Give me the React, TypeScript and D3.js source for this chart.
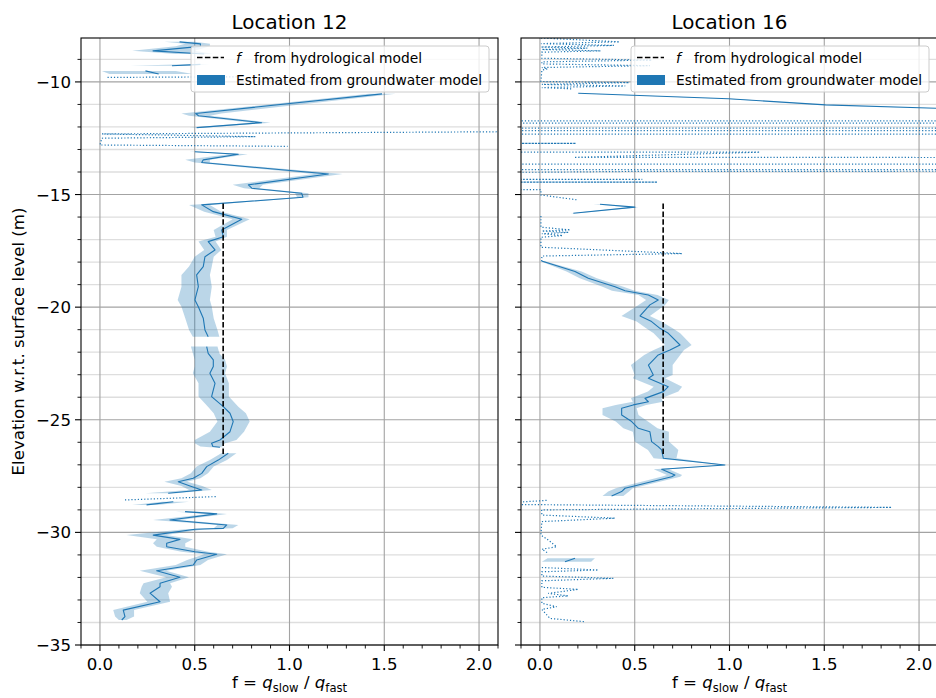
import React from 'react';
import * as d3 from 'd3';

// ---------- axis settings ----------
const X_DOMAIN: [number, number] = [-0.1, 2.1];
const Y_DOMAIN: [number, number] = [-35, -8.05];
const X_TICKS = [0, 0.5, 1.0, 1.5, 2.0];
const X_TICK_LABELS = ['0.0', '0.5', '1.0', '1.5', '2.0'];
const Y_TICKS = [-35, -30, -25, -20, -15, -10];
const Y_TICK_LABELS = ['−35', '−30', '−25', '−20', '−15', '−10'];
const TITLES = ['Location 12', 'Location 16'];
const LEGEND_LABELS = ['from hydrological model', 'Estimated from groundwater model'];
const Y_LABEL = 'Elevation w.r.t. surface level (m)';

// f from hydrological model (dashed black line)
const HYDRO_F = [0.65, 0.65];
const HYDRO_DEPTHS = [[-15.4, -26.6], [-15.4, -26.6]];

// ---------- Location 12: solid segments [depth, f, lower, upper] ----------
const loc12Seg1 = [
  [-8.22, 0.42, 0.34, 0.5], [-8.31, 0.53, 0.45, 0.58], [-8.42, 0.53, 0.4, 0.58],
  [-8.62, 0.28, 0.17, 0.5], [-8.76, 0.55, 0.4, 0.6],
];
const loc12Seg2 = [[-9.22, 0.53, 0.45, 0.58], [-9.28, 0.38, 0.16, 0.48]];
const loc12Seg3 = [[-9.51, 0.24, 0.01, 0.4], [-9.65, 0.31, 0.05, 0.49]];
const loc12Seg4 = [
  [-10.53, 1.488, 1.42, 1.56], [-11.4, 0.505, 0.43, 0.64], [-11.5, 0.52, 0.47, 0.58],
  [-11.81, 0.853, 0.8, 0.9], [-12.03, 0.51, 0.47, 0.55],
];
const loc12Seg5 = [
  [-13.1, 0.501, 0.47, 0.53], [-13.21, 0.73, 0.68, 0.78], [-13.46, 0.545, 0.45, 0.58],
  [-13.58, 0.537, 0.5, 0.58], [-14.09, 1.205, 1.13, 1.28], [-14.57, 0.783, 0.7, 0.86],
  [-14.72, 0.801, 0.76, 0.84], [-14.94, 1.064, 1.03, 1.1], [-15.12, 1.071, 1.04, 1.1],
  [-15.46, 0.537, 0.47, 0.58], [-15.76, 0.598, 0.55, 0.64], [-16.1, 0.748, 0.7, 0.79],
  [-16.57, 0.642, 0.6, 0.67], [-16.87, 0.651, 0.61, 0.67], [-17.09, 0.571, 0.52, 0.61],
  [-17.46, 0.607, 0.55, 0.64], [-17.76, 0.554, 0.5, 0.6], [-18.2, 0.545, 0.47, 0.59],
  [-18.57, 0.51, 0.43, 0.58], [-19.09, 0.519, 0.43, 0.59], [-19.68, 0.501, 0.41, 0.58],
  [-19.98, 0.519, 0.43, 0.59], [-20.49, 0.545, 0.45, 0.6], [-21.01, 0.554, 0.47, 0.62],
  [-21.31, 0.571, 0.49, 0.63],
];
const loc12Seg6 = [
  [-21.75, 0.563, 0.48, 0.62], [-22.05, 0.571, 0.49, 0.63], [-22.34, 0.598, 0.5, 0.66],
  [-22.64, 0.598, 0.5, 0.67], [-22.94, 0.58, 0.49, 0.66], [-23.38, 0.607, 0.52, 0.68],
  [-23.97, 0.589, 0.52, 0.68], [-24.42, 0.651, 0.57, 0.73], [-24.71, 0.686, 0.6, 0.77],
  [-25.08, 0.703, 0.62, 0.79], [-25.53, 0.686, 0.58, 0.76], [-25.9, 0.633, 0.5, 0.72],
  [-26.04, 0.589, 0.5, 0.66], [-26.19, 0.596, 0.53, 0.64], [-26.22, 0.633, 0.58, 0.66],
];
const loc12Seg7 = [
  [-26.49, 0.677, 0.64, 0.72], [-26.79, 0.624, 0.58, 0.67], [-27.08, 0.563, 0.51, 0.6],
  [-27.38, 0.537, 0.48, 0.57], [-27.6, 0.492, 0.43, 0.53], [-27.75, 0.413, 0.34, 0.46],
  [-27.94, 0.475, 0.43, 0.54], [-28.12, 0.537, 0.47, 0.59], [-28.26, 0.36, 0.24, 0.4],
];
const loc12Seg8 = [[-28.64, 0.387, 0.33, 0.47], [-28.78, 0.246, 0.17, 0.3]];
const loc12Seg9 = [
  [-29.08, 0.449, 0.4, 0.52], [-29.18, 0.616, 0.57, 0.67], [-29.45, 0.369, 0.28, 0.42],
  [-29.67, 0.669, 0.62, 0.73], [-29.82, 0.651, 0.6, 0.7], [-29.86, 0.501, 0.45, 0.55],
  [-30.12, 0.281, 0.14, 0.35], [-30.31, 0.422, 0.3, 0.49], [-30.48, 0.352, 0.28, 0.45],
  [-30.64, 0.352, 0.3, 0.45], [-30.86, 0.501, 0.43, 0.57], [-30.97, 0.616, 0.55, 0.67],
  [-31.23, 0.51, 0.46, 0.57], [-31.45, 0.492, 0.4, 0.53], [-31.7, 0.299, 0.21, 0.35],
  [-31.99, 0.422, 0.35, 0.47], [-32.26, 0.317, 0.23, 0.37], [-32.41, 0.317, 0.22, 0.38],
  [-32.7, 0.264, 0.21, 0.36], [-33.08, 0.317, 0.25, 0.37], [-33.45, 0.123, 0.07, 0.18],
  [-33.74, 0.132, 0.08, 0.18], [-33.89, 0.115, 0.1, 0.14],
];
// ---------- Location 12: dotted parts [depth, f] ----------
const loc12Dot1 = [[-9.8, 0.04], [-9.77, 0.75]];
const loc12Dot2 = [[-12.19, 2.6], [-12.31, 0.01], [-12.43, 0.82], [-12.5, 0.01], [-12.8, 0.0], [-12.86, 0.99]];
const loc12Dot3 = [[-28.56, 0.132], [-28.41, 0.616]];

// ---------- Location 16: solid segments ----------
const loc16Seg1 = [
  [-10.5, 0.202, 0.19, 0.21], [-10.75, 0.994, 0.98, 1.01], [-11.02, 1.506, 1.49, 1.52],
  [-11.17, 2.09, 2.08, 2.1], [-11.3, 2.6, 2.6, 2.6],
];
const loc16Seg2 = [[-15.43, 0.317, 0.28, 0.34], [-15.56, 0.501, 0.47, 0.52], [-15.83, 0.176, 0.16, 0.2]];
const loc16Seg3 = [
  [-17.95, 0.009, 0.0, 0.02], [-18.42, 0.185, 0.14, 0.22], [-18.72, 0.255, 0.21, 0.3],
  [-19.09, 0.396, 0.33, 0.44], [-19.27, 0.449, 0.38, 0.5], [-19.46, 0.572, 0.52, 0.62],
  [-19.68, 0.624, 0.56, 0.68], [-19.9, 0.58, 0.52, 0.66], [-20.39, 0.528, 0.43, 0.58],
  [-20.64, 0.589, 0.51, 0.64], [-20.94, 0.633, 0.56, 0.7], [-21.16, 0.677, 0.6, 0.74],
  [-21.68, 0.739, 0.66, 0.8], [-21.9, 0.686, 0.6, 0.76], [-22.12, 0.624, 0.55, 0.74],
  [-22.57, 0.572, 0.48, 0.7], [-23.01, 0.598, 0.5, 0.7], [-23.16, 0.572, 0.49, 0.66],
  [-23.53, 0.677, 0.6, 0.75], [-23.75, 0.651, 0.57, 0.73], [-24.05, 0.554, 0.48, 0.64],
  [-24.2, 0.572, 0.49, 0.65], [-24.34, 0.492, 0.4, 0.56], [-24.49, 0.431, 0.33, 0.51],
  [-24.79, 0.431, 0.33, 0.52], [-25.08, 0.484, 0.4, 0.57], [-25.38, 0.519, 0.44, 0.62],
  [-25.53, 0.58, 0.49, 0.68], [-25.97, 0.589, 0.5, 0.68], [-26.19, 0.624, 0.54, 0.71],
  [-26.34, 0.642, 0.57, 0.73], [-26.71, 0.651, 0.6, 0.72], [-27.01, 0.976, 0.97, 0.98],
  [-27.2, 0.642, 0.6, 0.68], [-27.45, 0.712, 0.67, 0.75], [-27.53, 0.695, 0.64, 0.74],
  [-28.04, 0.449, 0.4, 0.49], [-28.19, 0.431, 0.36, 0.47], [-28.38, 0.378, 0.33, 0.44],
];
const loc16Seg4 = [[-31.15, 0.185, 0.04, 0.29], [-31.3, 0.132, 0.01, 0.27]];
// ---------- Location 16: dotted parts ----------
const loc16Dot1 = [
  [-8.05, 0.005], [-8.22, 0.42], [-8.3, 0.005], [-8.38, 0.39], [-8.45, 0.005], [-8.5, 0.25],
  [-8.56, 0.01], [-8.62, 0.32], [-8.68, 0.01], [-8.95, 0.01], [-9.03, 0.59], [-9.11, 0.01],
  [-9.2, 0.01], [-9.28, 0.58], [-9.36, 0.01], [-9.42, 0.04], [-9.48, 0.01], [-9.98, 0.005],
  [-10.03, 0.47], [-10.11, 0.01], [-10.18, 0.45], [-10.25, 0.01], [-10.31, 0.17],
];
const loc16Dot2 = [
  [-11.7, 20], [-11.76, -20], [-11.8, -20], [-11.86, 20], [-12.03, 20], [-12.07, -20],
  [-12.14, -20], [-12.18, 20], [-12.3, 20], [-12.34, -20], [-12.7, -20], [-12.73, 0.19],
  [-12.75, -20], [-13.1, -20], [-13.12, 1.16], [-13.35, 0.18], [-13.4, 20], [-13.62, 20],
  [-13.68, -20], [-13.88, -20], [-13.89, 0.005], [-13.93, 20], [-13.97, 0.54], [-14.01, 0.005],
  [-14.03, -20], [-14.3, -20], [-14.33, 0.54], [-14.37, -20], [-14.42, -20], [-14.45, 0.62],
  [-14.49, -20], [-14.72, -20], [-14.78, 0.005], [-15.02, 0.005], [-15.24, 0.2],
];
const loc16Dot3 = [
  [-15.95, 0.005], [-16.45, 0.005], [-16.57, 0.16], [-16.62, 0.01], [-16.68, 0.15], [-16.74, 0.01],
  [-16.82, 0.12], [-16.9, 0.005], [-17.34, 0.005], [-17.62, 0.75], [-17.73, 0.01], [-17.95, 0.009],
];
const loc16Dot4 = [
  [-28.58, 0.035], [-28.75, -0.3], [-28.89, 1.856], [-29.0, 0.009], [-29.23, 0.01], [-29.37, 0.396],
  [-29.52, 0.01], [-30.12, 0.005], [-30.34, 0.044], [-30.64, 0.088], [-30.75, 0.01], [-30.93, 0.044],
];
const loc16Dot5 = [
  [-31.56, 0.01], [-31.67, 0.308], [-31.75, 0.01], [-31.94, 0.01], [-32.04, 0.387], [-32.15, 0.01],
  [-32.44, 0.01], [-32.53, 0.202], [-32.71, 0.044], [-32.82, 0.149], [-32.9, 0.01], [-33.15, 0.01],
  [-33.3, 0.088], [-33.42, 0.01], [-33.82, 0.053], [-33.97, 0.241],
];

const LOC12_SOLID = [loc12Seg1, loc12Seg2, loc12Seg3, loc12Seg4, loc12Seg5, loc12Seg6, loc12Seg7, loc12Seg8, loc12Seg9];
const LOC12_DOTTED = [loc12Dot1, loc12Dot2, loc12Dot3];
const LOC16_SOLID = [loc16Seg1, loc16Seg2, loc16Seg3, loc16Seg4];
const LOC16_DOTTED = [loc16Dot1, loc16Dot2, loc16Dot3, loc16Dot4, loc16Dot5];

// ---------- layout ----------
const W = 936;
const H = 698;
const TOP = 38;
const BOTTOM = 645;
const PANELS = [
  { x0: 81, x1: 498 },
  { x0: 521, x1: 938 },
];
const BLUE = '#1f77b4';
const FONT = 'DejaVu Sans, sans-serif';

type PanelProps = {
  idx: number;
  solid: number[][][];
  dotted: number[][][];
};

function Panel({ idx, solid, dotted }: PanelProps) {
  const { x0, x1 } = PANELS[idx];
  const x = d3.scaleLinear().domain(X_DOMAIN).range([x0, x1]);
  const y = d3.scaleLinear().domain(Y_DOMAIN).range([BOTTOM, TOP]);
  const area = d3
    .area<number[]>()
    .y((d) => y(d[0]))
    .x0((d) => x(d[2]))
    .x1((d) => x(d[3]));
  const line = d3
    .line<number[]>()
    .x((d) => x(d[1]))
    .y((d) => y(d[0]));
  const yMinor = d3.range(-35, -8, 1).filter((v) => v % 5 !== 0);
  const xMinor = d3
    .range(-1, 22)
    .filter((i) => i % 5 !== 0)
    .map((i) => i / 10);
  const clipId = `clip-${idx}`;
  const lgX = x1 - 307;
  const lgY = 46;
  const cx = (x0 + x1) / 2;
  return (
    <g>
      <defs>
        <clipPath id={clipId}>
          <rect x={x0} y={TOP} width={x1 - x0} height={BOTTOM - TOP} />
        </clipPath>
      </defs>
      {/* grid */}
      {yMinor.map((v) => (
        <line key={'ym' + v} x1={x0} x2={x1} y1={y(v)} y2={y(v)} stroke="#dedede" strokeWidth={1.3} />
      ))}
      {Y_TICKS.map((v) => (
        <line key={'yg' + v} x1={x0} x2={x1} y1={y(v)} y2={y(v)} stroke="#a3a3a3" strokeWidth={1.1} />
      ))}
      {X_TICKS.map((v) => (
        <line key={'xg' + v} x1={x(v)} x2={x(v)} y1={TOP} y2={BOTTOM} stroke="#a3a3a3" strokeWidth={1.1} />
      ))}
      {/* data */}
      <g clipPath={`url(#${clipId})`}>
        {solid.map((seg, i) => (
          <path key={'a' + i} d={area(seg) || ''} fill={BLUE} fillOpacity={0.3} stroke="none" />
        ))}
        {dotted.map((seg, i) => (
          <path
            key={'d' + i}
            d={line(seg) || ''}
            fill="none"
            stroke={BLUE}
            strokeWidth={1.2}
            strokeDasharray="1.2 2"
          />
        ))}
        {solid.map((seg, i) => (
          <path key={'l' + i} d={line(seg) || ''} fill="none" stroke={BLUE} strokeWidth={1.1} strokeLinejoin="round" />
        ))}
        <line
          x1={x(HYDRO_F[idx])}
          x2={x(HYDRO_F[idx])}
          y1={y(HYDRO_DEPTHS[idx][0])}
          y2={y(HYDRO_DEPTHS[idx][1])}
          stroke="#000"
          strokeWidth={1.6}
          strokeDasharray="5.5 2.4"
        />
      </g>
      {/* spines */}
      <rect x={x0} y={TOP} width={x1 - x0} height={BOTTOM - TOP} fill="none" stroke="#000" strokeWidth={1.1} />
      {/* x ticks */}
      {X_TICKS.map((v, i) => (
        <g key={'xt' + v}>
          <line x1={x(v)} x2={x(v)} y1={BOTTOM} y2={BOTTOM + 6} stroke="#000" strokeWidth={1.1} />
          <text x={x(v)} y={670} textAnchor="middle" fontSize={16.6} fontFamily={FONT} fill="#000">
            {X_TICK_LABELS[i]}
          </text>
        </g>
      ))}
      {xMinor.map((v) => (
        <line key={'xmt' + v} x1={x(v)} x2={x(v)} y1={BOTTOM} y2={BOTTOM + 3.5} stroke="#000" strokeWidth={0.9} />
      ))}
      {/* y ticks */}
      {Y_TICKS.map((v, i) => (
        <g key={'yt' + v}>
          <line x1={x0 - 6} x2={x0} y1={y(v)} y2={y(v)} stroke="#000" strokeWidth={1.1} />
          {idx === 0 && (
            <text x={x0 - 10} y={y(v)} dy="0.36em" textAnchor="end" fontSize={16.6} fontFamily={FONT} fill="#000">
              {Y_TICK_LABELS[i]}
            </text>
          )}
        </g>
      ))}
      {yMinor.map((v) => (
        <line key={'ymt' + v} x1={x0 - 3.5} x2={x0} y1={y(v)} y2={y(v)} stroke="#000" strokeWidth={0.9} />
      ))}
      {/* title */}
      <text x={cx} y={29} textAnchor="middle" fontSize={19.9} fontFamily={FONT} fill="#000">
        {TITLES[idx]}
      </text>
      {/* x label */}
      <text x={cx} y={688} textAnchor="middle" fontSize={16.6} fontFamily={FONT} fill="#000" style={{ whiteSpace: 'pre' }}>
        <tspan>f = </tspan>
        <tspan fontStyle="italic">q</tspan>
        <tspan fontSize={11.6} dy={3.5}>slow</tspan>
        <tspan dy={-3.5}> / </tspan>
        <tspan fontStyle="italic">q</tspan>
        <tspan fontSize={11.6} dy={3.5}>fast</tspan>
      </text>
      {/* legend */}
      <g>
        <rect x={lgX} y={lgY} width={298} height={46} rx={3} fill="#fff" fillOpacity={0.8} stroke="#cccccc" strokeWidth={1} />
        <line x1={lgX + 6} x2={lgX + 33} y1={lgY + 11.5} y2={lgY + 11.5} stroke="#000" strokeWidth={1.6} strokeDasharray="5.5 2.4" />
        <text x={lgX + 45} y={lgY + 16.5} fontSize={13.8} fontFamily={FONT} fontStyle="italic" fill="#000">
          f
        </text>
        <text x={lgX + 63} y={lgY + 16.5} fontSize={13.8} fontFamily={FONT} fill="#000">
          {LEGEND_LABELS[0]}
        </text>
        <rect x={lgX + 6} y={lgY + 29} width={28} height={10} fill={BLUE} />
        <text x={lgX + 45} y={lgY + 38.5} fontSize={13.8} fontFamily={FONT} fill="#000">
          {LEGEND_LABELS[1]}
        </text>
      </g>
    </g>
  );
}

export default function App() {
  return (
    <div style={{ position: 'absolute', left: 0, top: 0 }}>
      <svg width={W} height={H} style={{ display: 'block' }}>
        <rect width={W} height={H} fill="#fff" />
        <Panel idx={0} solid={LOC12_SOLID} dotted={LOC12_DOTTED} />
        <Panel idx={1} solid={LOC16_SOLID} dotted={LOC16_DOTTED} />
        <text
          transform={`translate(24, ${(TOP + BOTTOM) / 2}) rotate(-90)`}
          textAnchor="middle"
          fontSize={16.6}
          fontFamily={FONT}
          fill="#000"
        >
          {Y_LABEL}
        </text>
      </svg>
    </div>
  );
}
